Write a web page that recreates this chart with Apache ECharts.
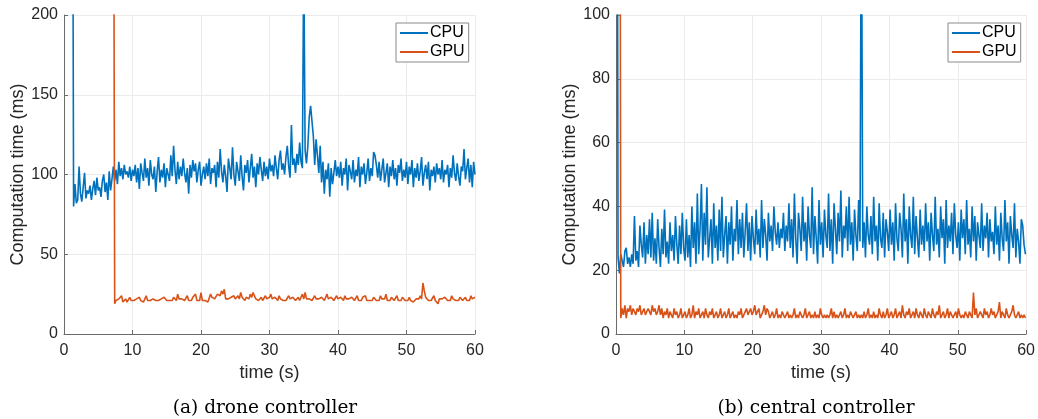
<!DOCTYPE html>
<html>
<head>
<meta charset="utf-8">
<script src="https://cdn.jsdelivr.net/npm/echarts@6/dist/echarts.min.js"></script>
<style>html,body{margin:0;padding:0;background:#fff}#c{width:1038px;height:419px}</style>
</head>
<body>
<div id="c"></div>
<script>
// sample spacing (s) and start times
const dt = 0.2;
const cpuA_t0 = 1.2, gpuA_t0 = 7.2, cpuB_t0 = 0.1, gpuB_t0 = 0.5;
const xTicksA = [0, 10, 20, 30, 40, 50, 60];
const yTicksA = [0, 50, 100, 150, 200];
const yTicksB = [0, 20, 40, 60, 80, 100];
const captions = ['(a) drone controller', '(b) central controller'];
const seriesNames = ['CPU', 'GPU'];

// (a) drone controller - CPU
const cpuA = [
420,
80,94,82,84,105,88,83,92,101,85,90,88,93,84,91,96,87,98,90,92,86,96,100,89,95,84,102,90,97,
105,96,103,94,108,99,104,97,106,100,102,98,105,96,103,
99,106,95,104,91,107,101,96,110,98,104,93,109,100,97,105,89,102,111,95,103,98,107,92,104,
100,96,112,99,118,103,94,108,97,105,99,110,101,95,104,88,106,98,109,102,107,95,103,108,93,
100,105,97,107,99,110,94,104,101,106,92,108,98,116,102,95,106,99,89,110,104,97,117,100,93,
108,102,96,112,99,90,106,101,109,95,104,113,98,105,92,107,100,111,103,96,108,99,105,97,110,
102,106,99,112,104,97,109,115,103,107,100,111,118,105,98,131,106,110,101,113,106,120,108,104,240,
115,107,118,136,143,142,124,106,122,112,101,118,95,108,88,103,97,107,86,104,94,101,109,99,105,
98,108,93,104,100,110,90,106,102,97,109,95,103,99,111,92,105,100,107,94,101,110,96,104,99,
114,112,106,98,108,96,103,110,95,101,107,92,105,99,109,97,104,93,106,101,110,96,103,98,108,
94,105,100,109,92,104,98,107,96,102,111,93,101,106,97,108,90,103,99,105,95,107,100,104,97,
109,95,103,100,106,92,104,98,112,101,96,107,99,93,105,102,116,97,104,110,95,106,92,108,100
];
// (a) drone controller - GPU
const gpuA = [
400,
19,21,20,22,21,24,20,21,22,20,21,23,21,22,
21,20,22,21,23,21,22,20,21,24,21,22,21,20,22,23,21,22,21,20,22,21,23,22,21,
22,21,22,21,23,22,21,25,22,21,22,23,21,22,24,21,22,21,23,22,25,21,22,21,26,
21,22,21,22,20,21,25,23,24,22,23,25,26,24,27,25,28,22,21,22,21,23,22,24,22,
21,24,22,26,23,22,21,23,24,22,25,23,26,24,22,23,21,22,23,21,22,24,22,21,23,
25,22,21,23,22,21,24,22,23,21,22,21,22,24,22,21,23,22,21,22,23,21,22,25,22,
26,22,21,22,23,21,22,24,22,21,22,21,23,22,21,22,25,22,21,23,22,21,22,24,22,
21,23,22,21,24,22,21,22,21,23,22,21,22,24,21,22,21,23,22,24,21,22,21,22,21,
23,22,21,22,21,24,22,21,22,25,21,22,21,23,22,21,22,24,21,22,21,23,22,21,22,
21,23,21,22,20,21,22,23,22,24,22,32,27,23,22,21,22,21,22,24,21,22,19,22,21,
22,21,23,22,21,22,21,24,22,23,21,22,21,23,22,21,22,23,21,22,21,24,22,21,23
];
// (b) central controller - CPU
const cpuB = [
300,
24,19,25,23,21,26,27,22,24,21,25,22,37,23,26,21,34,28,24,35,22,31,25,36,24,
38,23,30,22,36,27,21,33,25,39,24,29,22,35,26,31,23,37,28,22,34,25,38,27,23,
36,24,31,21,40,27,35,22,44,25,33,47,23,38,28,46,24,30,36,22,41,27,34,23,39,
26,43,24,31,37,22,35,28,40,23,33,29,42,25,36,27,38,24,32,41,26,35,23,37,30,
25,39,28,33,24,42,27,36,31,23,38,29,34,26,40,32,28,35,27,33,30,38,26,34,29,
41,27,36,24,44,30,22,38,33,26,43,29,35,23,40,31,27,46,25,37,30,22,42,28,35,
24,39,31,27,44,26,36,22,41,33,25,38,29,45,24,34,30,40,26,43,28,35,23,39,31,
26,42,29,150,27,35,24,40,31,28,37,25,43,29,34,23,41,30,27,38,24,36,32,26,39,
28,35,23,41,30,26,38,33,24,44,29,36,22,40,31,27,43,25,37,30,24,39,28,34,26,
41,29,35,23,38,31,26,43,28,33,24,40,30,36,22,42,27,34,29,38,25,41,31,27,35,
23,39,30,36,25,42,28,33,24,40,29,37,23,35,31,27,41,26,34,30,38,24,36,29,32,
25,40,28,34,23,38,30,26,42,29,35,22,37,31,27,41,24,33,29,22,36,34,28,25
];
// (b) central controller - GPU
const gpuB = [
300,
5,8,6,9,5,8,7,9,6,8,7,6,8,7,9,6,7,8,6,7,8,7,6,9,7,
8,6,7,9,6,8,5,7,6,8,5,7,6,5,8,6,7,5,6,8,5,6,7,5,6,
8,5,6,9,5,7,6,8,5,6,7,5,8,6,5,7,6,8,5,6,7,5,6,8,5,
6,7,5,6,8,5,6,7,5,6,5,7,6,8,5,6,7,8,6,7,8,6,7,9,6,
7,8,5,6,7,9,6,8,7,5,6,7,5,6,8,5,6,5,7,6,5,6,7,5,6,
5,6,8,5,6,5,7,6,5,6,8,5,6,7,5,6,5,7,5,6,5,8,6,5,6,
5,6,5,6,8,5,7,5,6,5,6,7,5,6,8,5,6,5,7,6,5,6,7,5,6,
5,6,5,7,5,6,8,5,6,5,7,5,6,5,8,6,5,7,5,6,8,5,6,7,5,
6,8,5,6,7,5,9,6,5,7,6,8,5,6,7,5,8,6,5,7,6,5,8,6,5,
7,6,5,8,6,5,7,6,9,5,6,7,5,6,8,5,7,6,5,6,7,5,8,6,5,
6,5,7,6,5,7,6,5,13,6,8,5,6,7,6,5,8,6,7,5,6,8,6,7,5,
6,7,10,5,7,6,5,8,6,5,6,7,9,6,5,6,7,5,6,5,6,5
];

function pairs(arr, t0) {
  return arr.map((v, i) => [Math.round((t0 + i * dt) * 100) / 100, v]);
}

const C_CPU = '#0072BD', C_GPU = '#D95319';
const FONT = 'Liberation Sans, Arial, sans-serif';
const grids = [
  { left: 64, top: 15, width: 411, height: 319 },
  { left: 616, top: 15, width: 411, height: 319 }
];

function xAxis(idx) {
  return {
    type: 'value', gridIndex: idx, min: 0, max: 60, interval: 10,
    name: 'time (s)', nameLocation: 'middle', nameGap: 30,
    nameTextStyle: { fontFamily: FONT, fontSize: 18, color: '#262626' },
    axisLine: { show: true, onZero: false, lineStyle: { color: '#6b6b6b', width: 1 } },
    axisTick: { show: true, inside: true, length: 4, lineStyle: { color: '#6b6b6b' } },
    axisLabel: { fontFamily: FONT, fontSize: 16, color: '#262626', margin: 9 },
    splitLine: { show: true, lineStyle: { color: '#ebebeb', width: 1 } }
  };
}
function yAxis(idx, max, interval) {
  return {
    type: 'value', gridIndex: idx, min: 0, max: max, interval: interval,
    name: 'Computation time (ms)', nameLocation: 'middle', nameGap: 37,
    nameTextStyle: { fontFamily: FONT, fontSize: 18, color: '#262626' },
    axisLine: { show: true, lineStyle: { color: '#6b6b6b', width: 1 } },
    axisTick: { show: true, inside: true, length: 4, lineStyle: { color: '#6b6b6b' } },
    axisLabel: { fontFamily: FONT, fontSize: 16, color: '#262626', margin: 6 },
    splitLine: { show: true, lineStyle: { color: '#ebebeb', width: 1 } }
  };
}
function line(name, data, color, idx) {
  return {
    type: 'line', name: name, data: data, xAxisIndex: idx, yAxisIndex: idx,
    showSymbol: false, symbol: 'none', clip: true, animation: false,
    lineStyle: { color: color, width: 1.6 }, itemStyle: { color: color }
  };
}
function legend(left) {
  return {
    data: seriesNames, left: left, top: 23, orient: 'vertical',
    icon: 'rect', itemWidth: 28, itemHeight: 2, itemGap: 3,
    padding: [2, 4, 2, 4], backgroundColor: '#fff',
    borderColor: '#8a8a8a', borderWidth: 1, borderRadius: 0,
    textStyle: { fontFamily: FONT, fontSize: 16, color: '#000', padding: [0, 0, 0, -3] },
    selectedMode: false
  };
}

const chart = echarts.init(document.getElementById('c'), null, { renderer: 'canvas' });
chart.setOption({
  animation: false,
  backgroundColor: '#fff',
  grid: grids,
  xAxis: [xAxis(0), xAxis(1)],
  yAxis: [yAxis(0, yTicksA[yTicksA.length - 1], 50), yAxis(1, yTicksB[yTicksB.length - 1], 20)],
  legend: [legend(396), legend(948)],
  title: [
    { text: captions[0], left: 260, top: 394, textAlign: 'center',
      textStyle: { fontFamily: 'DejaVu Serif, serif', fontWeight: 'normal', fontSize: 18.5, color: '#000' } },
    { text: captions[1], left: 811, top: 394, textAlign: 'center',
      textStyle: { fontFamily: 'DejaVu Serif, serif', fontWeight: 'normal', fontSize: 18.5, color: '#000' } }
  ],
  series: [
    line('CPU', pairs(cpuA, cpuA_t0), C_CPU, 0),
    line('GPU', pairs(gpuA, gpuA_t0), C_GPU, 0),
    line('CPU', pairs(cpuB, cpuB_t0), C_CPU, 1),
    line('GPU', pairs(gpuB, gpuB_t0), C_GPU, 1)
  ]
});
</script>
</body>
</html>
